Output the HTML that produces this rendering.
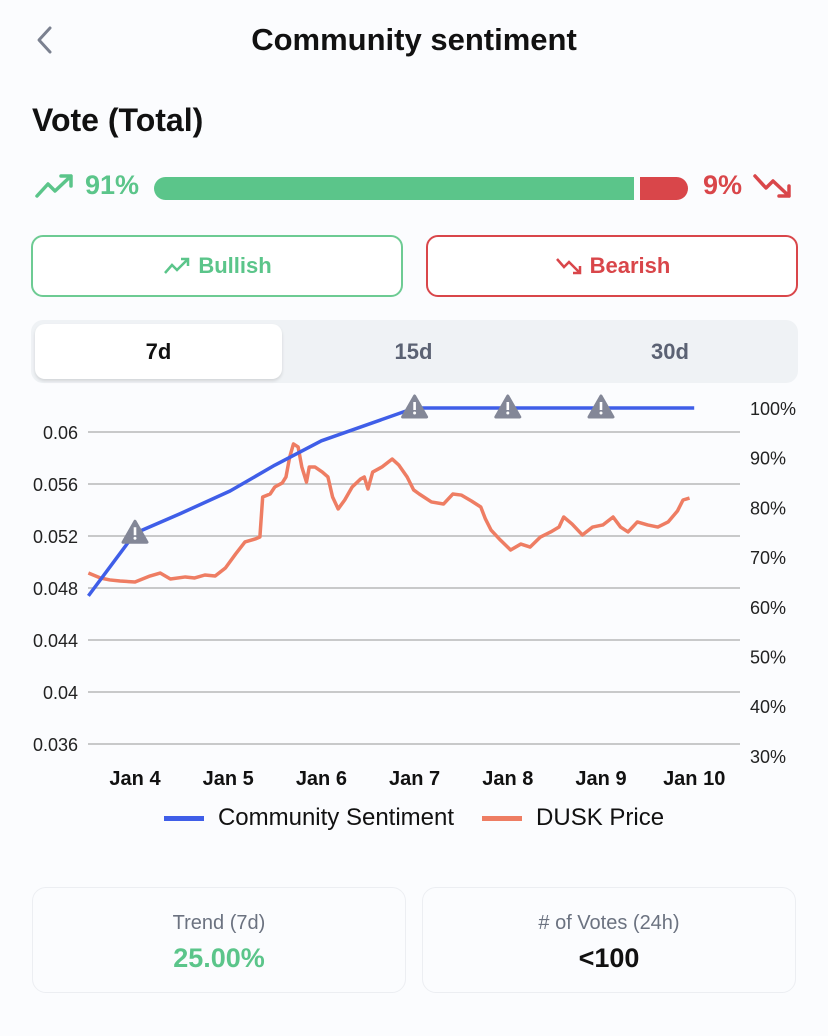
<!DOCTYPE html>
<html><head><meta charset="utf-8">
<style>
*{box-sizing:border-box;margin:0;padding:0}
body{width:828px;height:1036px;background:#fbfcfe;font-family:"Liberation Sans",sans-serif;position:relative;overflow:hidden;color:#111}
.abs{position:absolute}
.btn{position:absolute;top:235px;height:62px;border-radius:12px;border:2px solid;display:flex;align-items:center;justify-content:center;font-size:22px;font-weight:bold;background:#fff}
.card{position:absolute;top:887px;width:374px;height:106px;border:1.5px solid #eceef2;border-radius:14px;background:#fbfcfe;text-align:center}
</style></head><body>
<svg class="abs" style="left:30px;top:24px" width="28" height="32"><path d="M20 4 L9 16 L20 28" fill="none" stroke="#7b8190" stroke-width="3" stroke-linecap="round" stroke-linejoin="round"/></svg>
<div class="abs" style="left:0;width:828px;top:22px;text-align:center;font-size:31px;font-weight:bold">Community sentiment</div>
<div class="abs" style="left:32px;top:102px;font-size:32px;font-weight:bold">Vote (Total)</div>

<svg class="abs" style="left:34px;top:172px" width="42" height="28"><path d="M3 24 L14 12 L21 19 L37 4 M27 4 L37 4 L37 14" fill="none" stroke="#5bc58a" stroke-width="3.5" stroke-linecap="round" stroke-linejoin="round"/></svg>
<div class="abs" style="left:85px;top:170px;font-size:27px;color:#5bc58a;font-weight:bold">91%</div>
<div class="abs" style="left:154px;top:177px;width:480px;height:23px;background:#5bc58a;border-radius:12px 0 0 12px"></div>
<div class="abs" style="left:640px;top:177px;width:48px;height:23px;background:#d9464a;border-radius:0 12px 12px 0"></div>
<div class="abs" style="left:703px;top:170px;font-size:27px;color:#d9464a;font-weight:bold">9%</div>
<svg class="abs" style="left:752px;top:172px" width="42" height="28"><path d="M3 4 L14 16 L21 9 L37 24 M27 24 L37 24 L37 14" fill="none" stroke="#d9464a" stroke-width="3.5" stroke-linecap="round" stroke-linejoin="round"/></svg>

<div class="btn" style="left:31px;width:372px;border-color:#6dcb93;color:#5bc58a"><svg width="30" height="20" style="margin-right:6px"><path d="M3 17 L10 9 L15 14 L26 3 M19 3 L26 3 L26 10" fill="none" stroke="#5bc58a" stroke-width="2.5"/></svg>Bullish</div>
<div class="btn" style="left:426px;width:372px;border-color:#d9464a;color:#d9464a"><svg width="30" height="20" style="margin-right:6px"><path d="M3 3 L10 11 L15 6 L26 17 M19 17 L26 17 L26 10" fill="none" stroke="#d9464a" stroke-width="2.5"/></svg>Bearish</div>

<div class="abs" style="left:31px;top:320px;width:767px;height:63px;background:#eff2f5;border-radius:12px"></div>
<div class="abs" style="left:35px;top:324px;width:247px;height:55px;background:#fff;border-radius:10px;box-shadow:0 2px 3px rgba(0,0,0,.12);display:flex;align-items:center;justify-content:center;font-size:22px;font-weight:bold">7d</div>
<div class="abs" style="left:290px;top:324px;width:247px;height:55px;display:flex;align-items:center;justify-content:center;font-size:22px;font-weight:bold;color:#5b6273">15d</div>
<div class="abs" style="left:545px;top:324px;width:250px;height:55px;display:flex;align-items:center;justify-content:center;font-size:22px;font-weight:bold;color:#5b6273">30d</div>

<svg id="chart" class="abs" style="left:0;top:0" width="828" height="860"></svg>

<div class="abs" style="left:0;width:828px;top:804px;display:flex;justify-content:center;align-items:center;font-size:24px">
<span style="width:40px;height:5px;background:#3f5ee8;margin-right:14px"></span><span style="margin-right:28px">Community Sentiment</span>
<span style="width:40px;height:5px;background:#ee7d63;margin-right:14px"></span><span>DUSK Price</span></div>

<div class="card" style="left:32px"><div style="margin-top:24px;font-size:20px;color:#6b7280">Trend (7d)</div><div style="margin-top:8px;font-size:27px;font-weight:bold;color:#5bc58a">25.00%</div></div>
<div class="card" style="left:422px"><div style="margin-top:24px;font-size:20px;color:#6b7280"># of Votes (24h)</div><div style="margin-top:8px;font-size:27px;font-weight:bold">&lt;100</div></div>

<script>
const leftTicks=[0.06,0.056,0.052,0.048,0.044,0.04,0.036];
const rightTicks=[100,90,80,70,60,50,40,30];
const dateLabels=["Jan 4","Jan 5","Jan 6","Jan 7","Jan 8","Jan 9","Jan 10"];
const sentDays=[-0.5,0,0.48,1.02,1.5,2.0,3.0,6.0];
const sentVals=[62.2,74.8,78.7,83.3,88.5,93.4,100,100];
const warnDays=[0,3,4,5];
const priceDays=[-0.5,-0.37,-0.27,-0.16,0,0.16,0.27,0.38,0.54,0.64,0.75,0.86,0.97,1.08,1.18,1.29,1.34,1.37,1.45,1.5,1.58,1.62,1.66,1.7,1.75,1.79,1.84,1.87,1.93,2.01,2.07,2.12,2.18,2.25,2.33,2.42,2.46,2.5,2.55,2.65,2.76,2.83,2.92,2.99,3.05,3.18,3.31,3.41,3.5,3.61,3.71,3.76,3.82,3.92,4.03,4.14,4.24,4.35,4.46,4.55,4.6,4.69,4.8,4.91,5.02,5.13,5.21,5.29,5.39,5.5,5.61,5.72,5.82,5.88,5.95];
const priceVals=[0.04915,0.04877,0.04862,0.04854,0.04846,0.04892,0.04915,0.04869,0.04885,0.04877,0.049,0.04892,0.04954,0.05062,0.05154,0.05177,0.05192,0.055,0.05523,0.05577,0.05608,0.05654,0.05808,0.05908,0.05885,0.05731,0.05615,0.05731,0.05731,0.05692,0.05654,0.055,0.05408,0.05477,0.05577,0.05638,0.05654,0.05562,0.05692,0.05731,0.05792,0.05746,0.05654,0.05554,0.05523,0.05462,0.05446,0.05523,0.05515,0.05469,0.05423,0.05331,0.05246,0.05169,0.05092,0.05138,0.05115,0.05192,0.05231,0.05269,0.05346,0.05292,0.05208,0.05269,0.05285,0.05346,0.05269,0.05231,0.05308,0.05285,0.05269,0.05308,0.05392,0.05477,0.05492];
const NS='http://www.w3.org/2000/svg';
const svg=document.getElementById('chart');
const xL=88,xR=740;
const X=d=>135+d*93.2;
const YL=v=>432+(0.06-v)*13000;
const YR=p=>408+(100-p)*4.97;
function mk(t,a){const e=document.createElementNS(NS,t);for(const k in a)e.setAttribute(k,a[k]);svg.appendChild(e);return e;}
leftTicks.forEach(v=>{
 const l=mk('line',{x1:xL,x2:xR,y1:YL(v),y2:YL(v),stroke:'#b8b8b8','stroke-width':1.5});
 
 
 const t=mk('text',{x:78,y:YL(v)+7,'text-anchor':'end','font-size':18,fill:'#222'});
 t.textContent=String(v);
 
 
});
rightTicks.forEach(p=>{
 const t=mk('text',{x:750,y:YR(p)+7,'font-size':18,fill:'#222'});
 t.textContent=p+'%';
 
 
});
dateLabels.forEach((s,i)=>{
 const t=mk('text',{x:X(i),y:785,'text-anchor':'middle','font-size':20,'font-weight':'bold',fill:'#111'});
 t.textContent=s;
 
 
});
const pp=mk('polyline',{points:priceDays.map((d,i)=>X(d)+','+YL(priceVals[i])).join(' '),fill:'none',stroke:'#ee7d63','stroke-width':3.5,'stroke-linejoin':'round'});


const sp=mk('polyline',{points:sentDays.map((d,i)=>X(d)+','+YR(sentVals[i])).join(' '),fill:'none',stroke:'#3f5ee8','stroke-width':3.5,'stroke-linejoin':'round'});


warnDays.forEach(d=>{
 const i=sentDays.findIndex(s=>s>=d);
 let v=sentVals[i];
 if(sentDays[i]!==d){const a=i-1;v=sentVals[a]+(sentVals[i]-sentVals[a])*(d-sentDays[a])/(sentDays[i]-sentDays[a]);}
 const cx=X(d),cy=YR(v);
 const g=mk('g',{});
 
 
 const p=document.createElementNS(NS,'path');p.setAttribute('d',`M${cx} ${cy-12} L${cx+12} ${cy+9} L${cx-12} ${cy+9} Z`);p.setAttribute('fill','#838797');p.setAttribute('stroke','#838797');p.setAttribute('stroke-width',3);p.setAttribute('stroke-linejoin','round');g.appendChild(p);
 const r=document.createElementNS(NS,'rect');r.setAttribute('x',cx-1.3);r.setAttribute('y',cy-6);r.setAttribute('width',2.6);r.setAttribute('height',8);r.setAttribute('fill','#fff');g.appendChild(r);
 const c=document.createElementNS(NS,'circle');c.setAttribute('cx',cx);c.setAttribute('cy',cy+5);c.setAttribute('r',1.5);c.setAttribute('fill','#fff');g.appendChild(c);
});
</script>
</body></html>
